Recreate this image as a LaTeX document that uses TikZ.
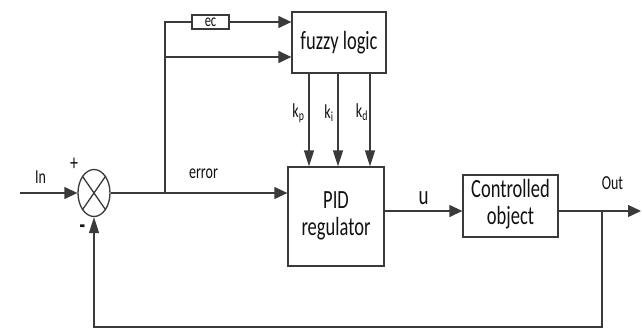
\documentclass[tikz,border=0pt]{standalone}
\usepackage{graphicx}
\usepackage{fontspec}
\setmainfont{Carlito}
\usetikzlibrary{shapes.geometric,arrows.meta}
\definecolor{ln}{HTML}{3A3A3A}
\definecolor{tx}{HTML}{111111}
\newcommand{\vs}[1]{\scalebox{1}[1.42]{#1}}
\newcommand{\bigtxt}{\fontsize{18.5}{19}\selectfont}
\newcommand{\smalltxt}{\fontsize{14}{16}\selectfont}
\begin{document}
\begin{tikzpicture}[x=1pt,y=-1pt,
  wire/.style={draw=ln,line width=1.3pt},
  harr/.style={wire,-{Triangle[length=13pt,width=12pt]}},
  varr/.style={wire,-{Triangle[length=16pt,width=10pt]}},
  blk/.style={draw=ln,line width=1.3pt,rectangle,inner sep=0pt,text=tx,align=center},
  lbl/.style={inner sep=0pt,text=tx,font=\smalltxt}]
\useasboundingbox (0,0) rectangle (642,329);
% blocks
\node[draw=ln,line width=1.3pt,ellipse,minimum width=32pt,minimum height=47pt,inner sep=0pt] (sum) at (94,193) {};
\node[blk,minimum width=37pt,minimum height=14pt,font=\fontsize{12.5}{14}\selectfont] (ec) at (210.5,22) {\vs{ec}};
\node[blk,minimum width=94pt,minimum height=61pt,font=\bigtxt] (fuzzy) at (339,42.5) {\vs{fuzzy logic}};
\node[blk,minimum width=96pt,minimum height=99pt,font=\bigtxt] (pid) at (336,216.5) {\vs{\begin{tabular}{@{}c@{}}PID\\regulator\end{tabular}}};
\node[blk,minimum width=95pt,minimum height=62pt,font=\bigtxt] (plant) at (510.5,206) {\vs{\begin{tabular}{@{}c@{}}Controlled\\object\end{tabular}}};
% cross in summing junction
\draw[wire] (sum.north west) -- (sum.south east);
\draw[wire] (sum.north east) -- (sum.south west);
% coordinates
\coordinate (in) at (20,193);
\coordinate (br) at (165,193);
\coordinate (b2) at (165,57);
\coordinate (ulev) at (0,211);
\coordinate (out) at (641,211);
\coordinate (fb) at (602,211);
\coordinate (bot) at (0,327);
\coordinate (kp) at (309,0);
\coordinate (ki) at (338,0);
\coordinate (kd) at (370,0);
% connectors
\draw[harr] (in) -- (sum.west);
\draw[harr] (sum.east) -- (pid.west |- sum.east);
\draw[wire] (br) |- (ec.west);
\draw[harr] (ec.east) -- (fuzzy.west |- ec.east);
\draw[harr] (b2) -- (fuzzy.west |- b2);
\draw[varr] (kp |- fuzzy.south) -- (kp |- pid.north);
\draw[varr] (ki |- fuzzy.south) -- (ki |- pid.north);
\draw[varr] (kd |- fuzzy.south) -- (kd |- pid.north);
\draw[harr] (pid.east |- ulev) -- (plant.west |- ulev);
\draw[harr] (plant.east |- ulev) -- (out);
\draw[varr] (fb) -- (fb |- bot) -| (sum.south);
% labels
\node[lbl] (lin) at (40.5,177) {\vs{In}};
\node[lbl,font=\fontsize{16}{18}\selectfont] (lplus) at (74,164) {\vs{+}};
\node[lbl,font=\fontsize{18}{20}\selectfont\bfseries] (lminus) at (82.5,229) {\vs{-}};
\node[lbl] (lerr) at (203.5,174) {\vs{error}};
\node[lbl] (lkp) at (298.5,113) {\vs{k\textsubscript{p}}};
\node[lbl] (lki) at (329,113) {\vs{k\textsubscript{i}}};
\node[lbl] (lkd) at (362,112) {\vs{k\textsubscript{d}}};
\node[lbl,font=\fontsize{19}{21}\selectfont] (lu) at (423.5,198) {\vs{u}};
\node[lbl] (lout) at (612.5,183) {\vs{Out}};
\end{tikzpicture}
\end{document}
